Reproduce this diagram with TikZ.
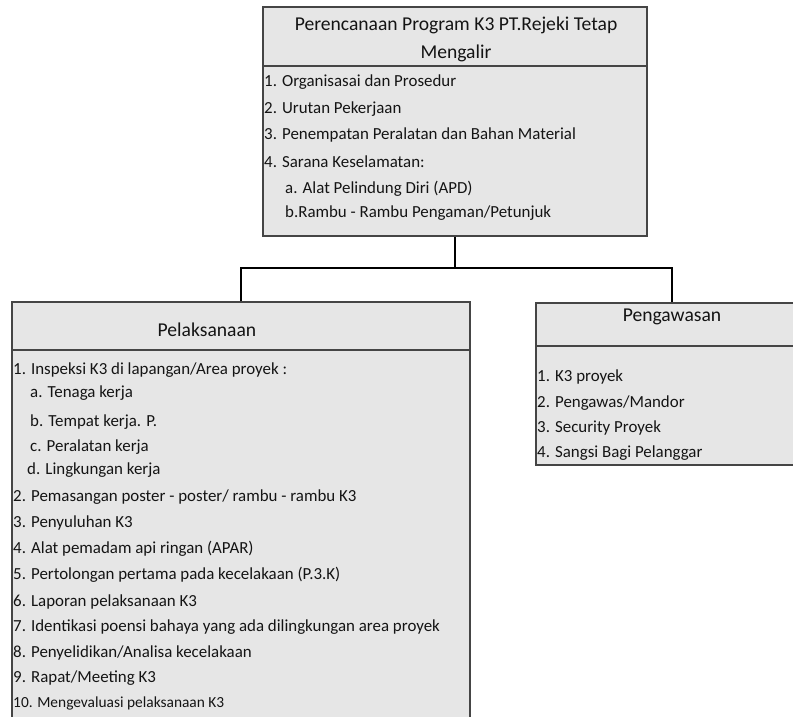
\documentclass[tikz,border=0pt]{standalone}
\usepackage{fontspec}
\setmainfont{Carlito}
\usetikzlibrary{positioning}
\tikzstyle{block} = [rectangle, draw=bgray, line width=1.6pt, fill=bfill, inner sep=0pt]
\tikzstyle{sepline} = [draw=bgray, line width=1.6pt]
\tikzstyle{link} = [draw, line width=1.8pt]
\tikzstyle{head} = [align=center, inner sep=0pt, font=\fontsize{19.6}{28}\selectfont, text=btext]
\tikzstyle{item} = [anchor=west, inner sep=0pt, font=\fontsize{16.9}{20}\selectfont, text=btext]
\definecolor{bgray}{HTML}{454545}
\definecolor{bfill}{HTML}{E6E6E6}
\definecolor{btext}{HTML}{141414}

\begin{document}
\begin{tikzpicture}[x=1pt, y=-1pt]
\clip (0,0) rectangle (793,717);

%% planning
\node[block, minimum width=384pt, minimum height=229pt] at (455,121.5) (plan) {};
\path[sepline] (263,66) -- (647,66);
\node[head] at (456,39) (plantitle) {Perencanaan Program K3 PT.Rejeki Tetap\\Mengalir};
\node[item] at (264,82) (planone) {1. Organisasai dan Prosedur};
\node[item] at (264,109) (plantwo) {2. Urutan Pekerjaan};
\node[item] at (264,135) (planthree) {3. Penempatan Peralatan dan Bahan Material};
\node[item] at (264,162) (planfour) {4. Sarana Keselamatan:};
\node[item] at (285,189) (plana) {a. Alat Pelindung Diri (APD)};
\node[item] at (285,213) (planb) {b.Rambu - Rambu Pengaman/Petunjuk};

%% execution
\node[block, minimum width=458pt, minimum height=428pt] at (241,516) (exec) {};
\path[sepline] (12,350) -- (470,350);
\node[head] at (207,330) (exectitle) {Pelaksanaan};
\node[item] at (13,370) (execone) {1. Inspeksi K3 di lapangan/Area proyek :};
\node[item] at (30,393) (execa) {a. Tenaga kerja};
\node[item] at (30,422) (execb) {b. Tempat kerja. P.};
\node[item] at (30,447) (execc) {c. Peralatan kerja};
\node[item] at (27,470) (execd) {d. Lingkungan kerja};
\node[item] at (13,497) (exectwo) {2. Pemasangan poster - poster/ rambu - rambu K3};
\node[item] at (13,523) (execthree) {3. Penyuluhan K3};
\node[item] at (13,549) (execfour) {4. Alat pemadam api ringan (APAR)};
\node[item] at (13,575) (execfive) {5. Pertolongan pertama pada kecelakaan (P.3.K)};
\node[item] at (13,602) (execsix) {6. Laporan pelaksanaan K3};
\node[item] at (13,627) (execseven) {7. Identikasi poensi bahaya yang ada dilingkungan area proyek};
\node[item] at (13,653) (execeight) {8. Penyelidikan/Analisa kecelakaan};
\node[item] at (13,678) (execnine) {9. Rapat/Meeting K3};
\node[item, font=\fontsize{15.4}{18}\selectfont] at (13,703) (execten) {10. Mengevaluasi pelaksanaan K3};

%% supervision
\node[block, minimum width=272pt, minimum height=162pt] at (672,384) (watch) {};
\path[sepline] (536,346) -- (808,346);
\node[head] at (672,317) (watchtitle) {Pengawasan};
\node[item] at (537,377) (watchone) {1. K3 proyek};
\node[item] at (537,403) (watchtwo) {2. Pengawas/Mandor};
\node[item] at (537,428) (watchthree) {3. Security Proyek};
\node[item] at (537,453) (watchfour) {4. Sangsi Bagi Pelanggar};

%% connectors
\coordinate (split) at (455,268);
\path[link] (plan.south) -- (split);
\path[link] (exec.north) |- (split) -| (watch.north);

\end{tikzpicture}
\end{document}
